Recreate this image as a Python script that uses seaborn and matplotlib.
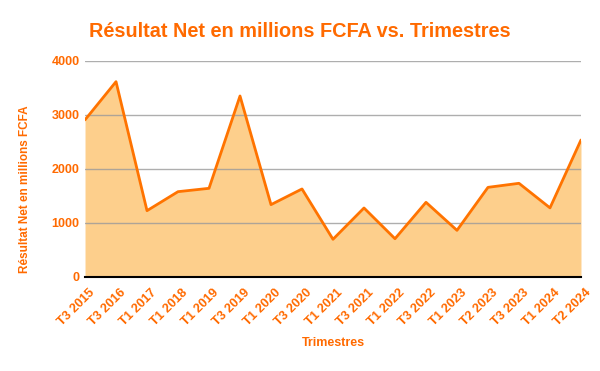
import matplotlib
matplotlib.use("Agg")
import matplotlib.pyplot as plt
import matplotlib.transforms as mtrans
import seaborn as sns
import pandas as pd

trimestres = ["T3 2015", "T3 2016", "T1 2017", "T1 2018", "T1 2019", "T3 2019",
              "T1 2020", "T3 2020", "T1 2021", "T3 2021", "T1 2022", "T3 2022",
              "T1 2023", "T2 2023", "T3 2023", "T1 2024", "T2 2024"]
resultat = [2910, 3617, 1228, 1580, 1642, 3352, 1340, 1630, 698, 1278, 709,
            1383, 864, 1660, 1735, 1280, 2537]
yticks = [0, 1000, 2000, 3000, 4000]

sns.set_style("white")
plt.rcParams['font.family'] = ['Liberation Sans', 'DejaVu Sans']

orange = "#FF6A00"
line_c = "#FF7300"
fill_c = "#FDCF8C"

df = pd.DataFrame({"x": range(len(trimestres)), "y": resultat})

fig = plt.figure(figsize=(6, 3.71), dpi=100)
ax = fig.add_axes([0.1417, 0.2534, 0.8266, 0.5822])

ax.fill_between(df["x"], 0, df["y"], color=fill_c, zorder=1, linewidth=0)
for t in yticks[1:]:
    ax.axhline(t, color="#9a9a9a", lw=1, alpha=0.8, zorder=2)
sns.lineplot(data=df, x="x", y="y", ax=ax, color=line_c, lw=2, zorder=3)

ax.set_xlim(0, len(trimestres) - 1)
ax.set_ylim(0, 4000)
ax.set_yticks(yticks)
ax.set_yticklabels([str(t) for t in yticks], color=orange, fontweight="bold", fontsize=9)
ax.set_xticks(range(len(trimestres)))
ax.set_xticklabels(trimestres, rotation=45, ha="right", rotation_mode="anchor",
                   color=orange, fontweight="bold", fontsize=9.2)
ax.tick_params(axis="both", length=0, pad=4)
ax.tick_params(axis="x", pad=7)
offset = mtrans.ScaledTranslation(4 / 100, 0, fig.dpi_scale_trans)
for lab in ax.get_xticklabels():
    lab.set_transform(lab.get_transform() + offset)

for s in ["top", "right", "left"]:
    ax.spines[s].set_visible(False)
ax.spines["bottom"].set_color("black")
ax.spines["bottom"].set_linewidth(1.5)
ax.spines["bottom"].set_zorder(4)

ax.set_xlabel("Trimestres", color=orange, fontweight="bold", fontsize=9, labelpad=6)
ax.set_ylabel("Résultat Net en millions FCFA", color=orange, fontweight="bold", fontsize=8.5)
ax.yaxis.set_label_coords(-0.108, 0.407)

fig.text(0.5, 0.916, "Résultat Net en millions FCFA vs. Trimestres", color=orange,
         fontweight="bold", fontsize=14.3, ha="center", va="center")

fig.savefig("out.png", dpi=100)
